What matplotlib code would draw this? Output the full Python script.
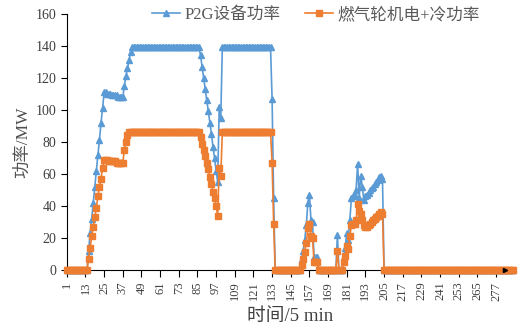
import matplotlib
matplotlib.use("Agg")
import matplotlib.pyplot as plt

# 时间点 1..288 (5 min 间隔)
t = list(range(1, 289))

# P2G设备功率 (MW)
p2g = ([0] * 14
       + [12, 23, 32, 42, 52, 62, 72, 81, 92, 101, 111]
       + [111, 110, 110, 110, 109, 109, 109, 109, 108, 108, 108, 108]
       + [115, 121, 126, 131, 136]
       + [139] * 44
       + [134, 127, 120, 113, 106, 99, 92, 85, 77, 70, 62, 55]
       + [102, 95]
       + [139] * 32
       + [107, 45]
       + [0] * 17
       + [7, 12, 19, 28, 42, 47, 31, 30, 8, 8, 8]
       + [0] * 12
       + [22]
       + [0] * 3
       + [8, 14, 23, 19, 31, 45, 46, 47, 50, 66, 45, 59, 52, 44, 46, 47, 48,
          50, 51, 52, 54, 55, 56, 58, 59, 57]
       + [0] * 84)

# 燃气轮机电+冷功率 (MW)
gt = ([0] * 14
      + [7, 14, 21, 27, 33, 39, 46, 52, 57, 64, 69]
      + [69, 69, 68, 68, 68, 68, 68, 67, 67, 67, 67, 67]
      + [75, 80, 84]
      + [86] * 46
      + [83, 79, 75, 71, 67, 63, 58, 54, 49, 45, 40, 34]
      + [64, 59]
      + [86] * 32
      + [67, 29]
      + [0] * 17
      + [3, 7, 11, 17, 26, 29, 21, 20, 5, 5, 5]
      + [0] * 12
      + [12]
      + [0] * 3
      + [5, 9, 15, 13, 21, 28, 29, 29, 31, 41, 37, 35, 31, 28, 27, 27, 28,
         29, 30, 31, 32, 33, 34, 35, 36, 35]
      + [0] * 84)

xticks = list(range(1, 278, 12))
yticks = list(range(0, 161, 20))

assert len(p2g) == 288 and len(gt) == 288

fonts = ['Liberation Serif', 'Noto Sans CJK SC']
plt.rcParams['font.family'] = fonts

fig = plt.figure(figsize=(5.22, 3.30), dpi=100)
ax = fig.add_axes([0.128, 0.182, 0.855, 0.776])

ax.plot(t, p2g, color='#5B9BD5', marker='^', markersize=3.8, linewidth=1.2,
        label='P2G设备功率', clip_on=False, zorder=3)
ax.plot(t, gt, color='#ED7D31', marker='s', markersize=3.8, linewidth=1.2,
        label='燃气轮机电+冷功率', clip_on=False, zorder=4)

ax.set_xlim(1, 288)
ax.set_ylim(0, 160)
ax.set_xticks(xticks)
ax.set_yticks(yticks)
ax.tick_params(axis='x', labelsize=9, rotation=90, direction='out', length=5,
               labelcolor='#404040')
ax.tick_params(axis='y', labelsize=10, direction='out', length=4,
               labelcolor='#404040')
for s in ['top', 'right']:
    ax.spines[s].set_visible(False)
ax.spines['bottom'].set_bounds(1, 283)
ax.plot([283], [0], marker='>', color='black', markersize=3, clip_on=False, zorder=5)

ax.set_xlabel('时间/5 min', fontsize=13.5, color='#404040', labelpad=5)
ax.set_ylabel('功率/MW', fontsize=12.5, color='#505050', labelpad=3)

leg = fig.legend(loc='center', bbox_to_anchor=(0.605, 0.955), ncol=2, frameon=False,
                 fontsize=12, handlelength=1.7, columnspacing=1.5,
                 handletextpad=0.25)
for txt in leg.get_texts():
    txt.set_color('#595959')

fig.savefig('out.png', dpi=100)
